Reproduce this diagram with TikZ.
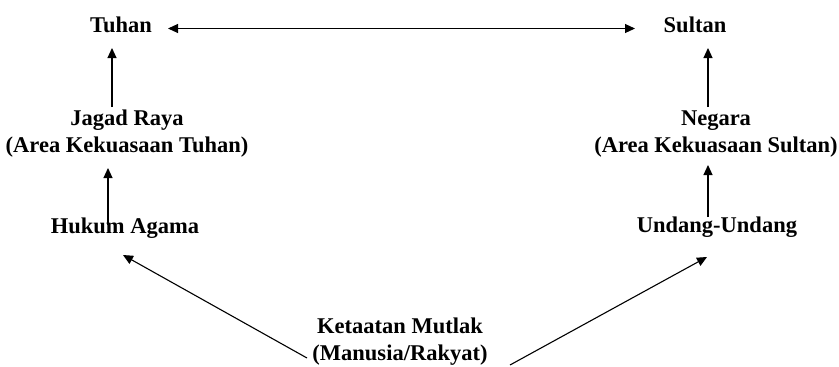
\documentclass[tikz,border=0pt]{standalone}
\usepackage{fontspec}
\setmainfont{Liberation Serif}
\usetikzlibrary{arrows.meta}
\begin{document}
\begin{tikzpicture}[x=1pt,y=-1pt,
  lbl/.style={inner sep=0pt, anchor=base, align=center, font=\fontsize{22.5}{27}\selectfont\bfseries},
  conn/.style={line width=1.1pt, -{Triangle[length=10pt,width=9pt]}},
  bconn/.style={line width=1.1pt, {Triangle[length=10pt,width=9pt]}-{Triangle[length=10pt,width=9pt]}}]
\useasboundingbox (0,0) rectangle (839,367);
\node[lbl] (tuhan) at (121,32) {Tuhan};
\node[lbl] (sultan) at (695,32) {Sultan};
\node[lbl] (jagad) at (127,152) {Jagad Raya\\(Area Kekuasaan Tuhan)};
\node[lbl] (negara) at (716,152) {Negara\\(Area Kekuasaan Sultan)};
\node[lbl] (hukum) at (125,233) {Hukum Agama};
\node[lbl] (undang) at (717,232) {Undang-Undang};
\node[lbl] (taat) at (400,360) {Ketaatan Mutlak\\(Manusia/Rakyat)};
% connector end points
\coordinate (hL) at (168,28.5);
\coordinate (hR) at (635,28.5);
\coordinate (jTop) at (112,107);
\coordinate (tBot) at (112,48);
\coordinate (nTop) at (708,107);
\coordinate (sBot) at (708,48);
\coordinate (hkTop) at (108,225);
\coordinate (jBot) at (108,168);
\coordinate (uTop) at (708,217);
\coordinate (nBot) at (708,165);
\coordinate (kL) at (307,358);
\coordinate (hkBot) at (123,255);
\coordinate (kR) at (510,365);
\coordinate (uBot) at (707,257);
\draw[bconn] (hL) -- (hR);
\draw[conn] (jTop) -- (tBot);
\draw[conn] (nTop) -- (sBot);
\draw[conn] (hkTop) -- (jBot);
\draw[conn] (uTop) -- (nBot);
\draw[conn] (kL) -- (hkBot);
\draw[conn] (kR) -- (uBot);
\end{tikzpicture}
\end{document}
